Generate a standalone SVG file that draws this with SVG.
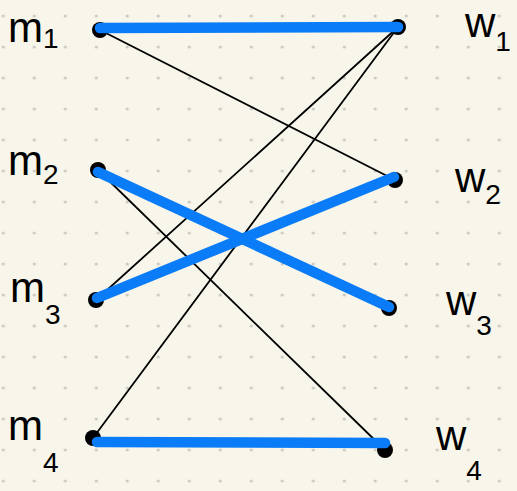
<svg xmlns="http://www.w3.org/2000/svg" width="517" height="491" viewBox="0 0 517 491">
<defs>
<pattern id="dots" x="3.3" y="16" width="31" height="31" patternUnits="userSpaceOnUse">
<circle cx="0" cy="0" r="1.6" fill="#c9c8c2"/>
<circle cx="31" cy="0" r="1.6" fill="#c9c8c2"/>
<circle cx="0" cy="31" r="1.6" fill="#c9c8c2"/>
<circle cx="31" cy="31" r="1.6" fill="#c9c8c2"/>
</pattern>
<style>
.thin{stroke:#000;stroke-width:1.8;fill:none;stroke-linecap:round}
.blue{stroke:#0a7cf7;stroke-width:10.5;fill:none;stroke-linecap:round}
.dot{fill:#000}
.lbl{font-family:"Liberation Sans",Arial,sans-serif;fill:#000;font-size:42px}
.sub{font-size:28px}
</style>
</defs>
<rect width="517" height="491" fill="#f8f6ea"/>
<rect width="517" height="491" fill="url(#dots)"/>
<g id="nodes">
<g id="m1"><circle class="dot" cx="100" cy="30" r="8"/><text class="lbl" x="8" y="42">m<tspan class="sub" dy="6">1</tspan></text></g>
<g id="w1"><circle class="dot" cx="398" cy="27" r="8"/><text class="lbl" x="465" y="37">w<tspan class="sub" dy="14">1</tspan></text></g>
<g id="m2"><circle class="dot" cx="98" cy="170" r="8"/><text class="lbl" x="8" y="175">m<tspan class="sub" dy="9">2</tspan></text></g>
<g id="w2"><circle class="dot" cx="395" cy="180" r="8"/><text class="lbl" x="455" y="192">w<tspan class="sub" dy="12">2</tspan></text></g>
<g id="m3"><circle class="dot" cx="96" cy="300" r="8"/><text class="lbl" x="10" y="302">m<tspan class="sub" dy="22">3</tspan></text></g>
<g id="w3"><circle class="dot" cx="389" cy="308" r="8"/><text class="lbl" x="446" y="315">w<tspan class="sub" dy="20">3</tspan></text></g>
<g id="m4"><circle class="dot" cx="93" cy="438" r="8"/><text class="lbl" x="8" y="440">m<tspan class="sub" dy="32">4</tspan></text></g>
<g id="w4"><circle class="dot" cx="385" cy="450" r="8"/><text class="lbl" x="436" y="450">w<tspan class="sub" dy="30">4</tspan></text></g>
</g>
<g id="connectors">
<line class="thin" x1="100" y1="30" x2="395" y2="180"/>
<line class="thin" x1="98" y1="170" x2="385" y2="450"/>
<line class="thin" x1="96" y1="300" x2="398" y2="27"/>
<line class="thin" x1="93" y1="438" x2="398" y2="27"/>
<line class="blue" x1="100" y1="28" x2="398" y2="27"/>
<line class="blue" x1="98" y1="172" x2="389" y2="307"/>
<line class="blue" x1="97" y1="298" x2="394" y2="177"/>
<line class="blue" x1="97" y1="442" x2="385" y2="443"/>
</g>
</svg>
